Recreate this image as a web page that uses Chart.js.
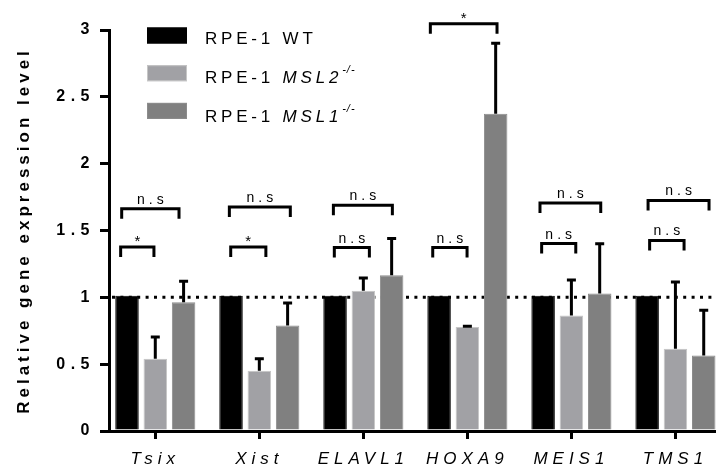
<!DOCTYPE html>
<html>
<head>
<meta charset="utf-8">
<script src="https://cdn.jsdelivr.net/npm/chart.js@4.4.1/dist/chart.umd.min.js"></script>
<style>
html, body { margin: 0; padding: 0; background: #fff; overflow: hidden; }
</style>
</head>
<body>
<canvas id="chart" width="716" height="473"></canvas>
<script>
const genes = ['Tsix', 'Xist', 'ELAVL1', 'HOXA9', 'MEIS1', 'TMS1'];
const wtValues = [1.012, 1.012, 1.012, 1.012, 1.012, 1.012];
const msl2Values = [0.54, 0.45, 1.05, 0.778, 0.865, 0.615];
const msl2Errors = [0.163, 0.09, 0.095, 0.006, 0.265, 0.50];
const msl1Values = [0.963, 0.79, 1.165, 2.374, 1.028, 0.564];
const msl1Errors = [0.157, 0.167, 0.275, 0.526, 0.372, 0.339];
const yTickValues = [0, 0.5, 1, 1.5, 2, 2.5, 3];
const yTickLabels = ['0', '0.5', '1', '1.5', '2', '2.5', '3'];

// legend: prefix, italic gene name, superscript
const legendPrefix = 'RPE-1 ';
const legendNames = ['WT', 'MSL2', 'MSL1'];
const legendItalic = [false, true, true];
const legendSup = ['', '-/-', '-/-'];

// significance brackets: [gene index, from, to (category units), level, label]
const brackets = [
    [0, -0.323, 0.228, 1.663, 'n.s'], [0, -0.333, -0.013, 1.376, '*'],
    [1, -0.288, 0.298, 1.675, 'n.s'], [1, -0.275, 0.063, 1.376, '*'],
    [2, -0.288, 0.279, 1.688, 'n.s'], [2, -0.279, 0.058, 1.372, 'n.s'],
    [3, -0.356, 0.285, 3.047, '*'], [3, -0.333, -0.003, 1.372, 'n.s'],
    [4, -0.302, 0.282, 1.705, 'n.s'], [4, -0.286, 0.042, 1.402, 'n.s'],
    [5, -0.263, 0.323, 1.725, 'n.s'], [5, -0.248, 0.083, 1.426, 'n.s']
];

const FONT = '"Liberation Sans", Arial, sans-serif';
const fills = ['#000000', '#a1a1a5', '#808080'];
const borders = ['#000000', '#c6c6c6', '#8c8c8c'];
const seriesValues = [wtValues, msl2Values, msl1Values];
const seriesErrors = [null, msl2Errors, msl1Errors];

function spaced(fn, sp) {
    return function(...args) {
        const c = this.ctx;
        c.save();
        c.letterSpacing = sp;
        fn.apply(this, args);
        c.restore();
    };
}

const decor = {
    id: 'decor',
    beforeDraw(chart) {
        const {x, y} = chart.scales;
        if (!y._spaced) {
            y.drawLabels = spaced(y.drawLabels, '5.5px');
            y.drawTitle = spaced(y.drawTitle, '4px');
            x.drawLabels = spaced(x.drawLabels, '5px');
            y._spaced = true;
        }
    },
    beforeDatasetsDraw(chart) {
        const ctx = chart.ctx, area = chart.chartArea;
        const y1 = chart.scales.y.getPixelForValue(1);
        ctx.save();
        ctx.strokeStyle = '#000';
        ctx.lineWidth = 3;
        ctx.setLineDash([3, 5.4]);
        ctx.beginPath();
        ctx.moveTo(area.left + 3, y1);
        ctx.lineTo(area.right, y1);
        ctx.stroke();
        ctx.restore();
    },
    afterDatasetsDraw(chart) {
        const ctx = chart.ctx, ys = chart.scales.y;
        ctx.save();
        ctx.strokeStyle = '#000';
        ctx.lineWidth = 3;
        seriesErrors.forEach((errs, d) => {
            if (!errs) return;
            chart.getDatasetMeta(d).data.forEach((bar, i) => {
                const top = ys.getPixelForValue(seriesValues[d][i] + errs[i]);
                ctx.beginPath();
                ctx.moveTo(bar.x, bar.y);
                ctx.lineTo(bar.x, top);
                ctx.moveTo(bar.x - 4.5, top);
                ctx.lineTo(bar.x + 4.5, top);
                ctx.stroke();
            });
        });
        ctx.restore();
    },
    afterDraw(chart) {
        const ctx = chart.ctx, xs = chart.scales.x, ys = chart.scales.y;
        ctx.save();
        ctx.strokeStyle = '#000';
        ctx.fillStyle = '#000';
        ctx.lineWidth = 3;
        ctx.textAlign = 'center';
        ctx.textBaseline = 'alphabetic';
        brackets.forEach(([g, from, to, level, label]) => {
            const x0 = xs.getPixelForValue(g + from);
            const x1 = xs.getPixelForValue(g + to);
            const y = ys.getPixelForValue(level);
            ctx.beginPath();
            ctx.moveTo(x0, y + 10);
            ctx.lineTo(x0, y);
            ctx.lineTo(x1, y);
            ctx.lineTo(x1, y + 10);
            ctx.stroke();
            if (label === '*') {
                ctx.letterSpacing = '0px';
                ctx.font = '15px ' + FONT;
                ctx.fillText(label, (x0 + x1) / 2, y - 1);
            } else {
                ctx.letterSpacing = '4px';
                ctx.font = '14px ' + FONT;
                ctx.fillText(label, (x0 + x1) / 2 + 2, y - 5);
            }
        });

        // legend
        ctx.textAlign = 'left';
        legendNames.forEach((name, s) => {
            const boxTop = 27.5 + s * 37.7;
            const base = 44 + s * 38.85;
            ctx.fillStyle = fills[s];
            ctx.fillRect(147, boxTop, 40, 16);
            ctx.strokeStyle = borders[s];
            ctx.lineWidth = 1;
            ctx.strokeRect(147.5, boxTop + 0.5, 39, 15);
            ctx.fillStyle = '#000';
            ctx.letterSpacing = '3.8px';
            ctx.font = '17px ' + FONT;
            let x = 205;
            ctx.fillText(legendPrefix, x, base);
            x += ctx.measureText(legendPrefix).width;
            ctx.font = (legendItalic[s] ? 'italic ' : '') + '17px ' + FONT;
            ctx.fillText(name, x, base);
            x += ctx.measureText(name).width;
            if (legendSup[s]) {
                ctx.letterSpacing = '1px';
                ctx.font = 'italic 11px ' + FONT;
                ctx.fillText(legendSup[s], x, base - 10);
            }
        });
        ctx.restore();
    }
};

new Chart(document.getElementById('chart'), {
    type: 'bar',
    plugins: [decor],
    data: {
        datasets: seriesValues.map((vals, d) => ({
            label: legendPrefix + legendNames[d] + legendSup[d],
            data: vals.map((v, i) => ({x: i, y: v})),
            backgroundColor: fills[d],
            borderColor: borders[d],
            borderWidth: 1,
            barPercentage: 0.83,
            categoryPercentage: 0.816
        }))
    },
    options: {
        responsive: false,
        animation: false,
        layout: {padding: {top: 30, right: 0, bottom: 0, left: 0}},
        plugins: {
            legend: {display: false},
            tooltip: {enabled: false}
        },
        scales: {
            x: {
                type: 'linear',
                min: -0.445,
                max: 5.39,
                offset: false,
                afterBuildTicks: (s) => { s.ticks = genes.map((g, i) => ({value: i})); },
                afterFit: (s) => { s.height = 42; },
                ticks: {
                    autoSkip: false,
                    maxRotation: 0,
                    color: '#000',
                    padding: 10,
                    font: {family: FONT, size: 17, style: 'italic'},
                    callback: (v) => genes[v]
                },
                grid: {drawOnChartArea: false, offset: false, tickLength: 8, lineWidth: 3, color: '#000'},
                border: {display: true, width: 3, color: '#000'}
            },
            y: {
                min: 0,
                max: 3,
                afterBuildTicks: (s) => { s.ticks = yTickValues.map(v => ({value: v})); },
                afterFit: (s) => { s.width = 109; },
                ticks: {
                    color: '#000',
                    padding: 5,
                    font: {family: FONT, size: 16, weight: 'bold'},
                    callback: (v, i) => yTickLabels[i]
                },
                grid: {drawOnChartArea: false, tickLength: 9, lineWidth: 3, color: '#000'},
                border: {display: true, width: 3, color: '#000'},
                title: {
                    display: true,
                    text: 'Relative gene expression level',
                    color: '#000',
                    padding: {top: 14, bottom: 0},
                    font: {family: FONT, size: 17, weight: 'bold'}
                }
            }
        }
    }
});
</script>
</body>
</html>
